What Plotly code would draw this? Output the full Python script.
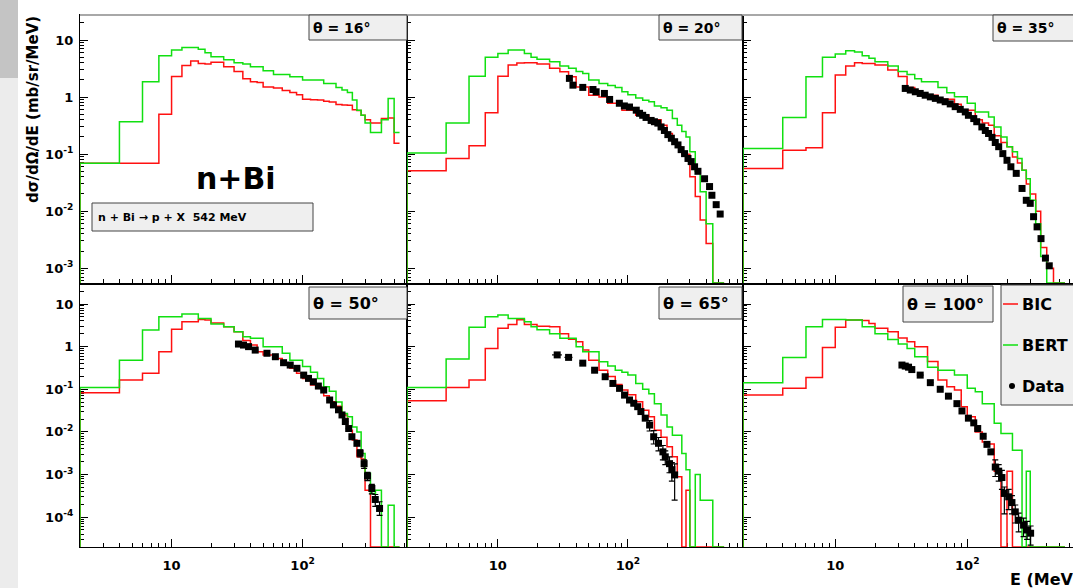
import math
import plotly.graph_objects as go

W, H = 1073, 588

# ---------------------------------------------------------------- data
# common energy binning of the model histograms (MeV)
E_EDGES = [2, 4, 6, 8, 10, 12, 14, 16, 18, 20, 25, 30, 35, 40, 45, 50, 60, 70, 80, 90,
           100, 115, 130, 145, 160, 180, 200, 220, 240, 260, 280, 300, 330, 360, 400,
           450, 500, 550]

ANGLES = [16, 20, 35, 50, 65, 100]

# model predictions, d2sigma/dOmega/dE in mb/sr/MeV per bin (0 = empty bin)
BIC_16 = [0.069, 0.069, 0.069, 0.50, 2.3, 3.6, 4.3, 3.9, 3.8, 4.1,
          3.4, 2.8, 2.1, 1.86, 1.8, 1.5, 1.45, 1.3, 1.2, 1.1,
          0.92, 0.9, 0.89, 0.85, 0.82, 0.74, 0.73, 0.72, 0.6, 0.58,
          0.48, 0.40, 0.35, 0.35, 0.42, 0.43, 0.155]
BERT_16 = [0.069, 0.37, 1.86, 5.3, 6.7, 7.45, 7.45, 6.9, 6.0, 5.1,
           4.5, 4.0, 3.8, 3.4, 3.4, 2.9, 2.5, 2.5, 2.27, 2.27,
           2.0, 2.0, 2.0, 1.74, 1.74, 1.48, 1.33, 1.2, 0.89, 0.59,
           0.48, 0.35, 0.24, 0.24, 0.40, 0.95, 0.24]

BIC_20 = [0.051, 0.084, 0.14, 0.53, 2.33, 3.64, 3.98, 4.0, 4.0, 3.8,
          3.2, 2.78, 2.27, 1.51, 1.51, 1.08, 1.0, 0.78, 0.78, 0.59,
          0.59, 0.48, 0.48, 0.40, 0.40, 0.32, 0.23, 0.176, 0.135, 0.10,
          0.10, 0.04, 0.018, 0.007, 0.0027, 0, 0]
BERT_20 = [0.105, 0.35, 2.33, 5.0, 5.8, 6.7, 6.7, 5.8, 5.0, 4.6,
           4.17, 3.5, 3.2, 2.8, 2.6, 2.0, 1.74, 1.6, 1.48, 1.24,
           1.1, 0.96, 0.88, 0.83, 0.70, 0.65, 0.59, 0.42, 0.32, 0.25,
           0.2, 0.11, 0.05, 0.022, 0.006, 0, 0]

BIC_35 = [0.056, 0.117, 0.13, 0.53, 2.43, 3.5, 4.0, 3.9, 3.9, 3.64,
          3.0, 2.3, 1.48, 1.29, 1.08, 1.08, 0.92, 0.92, 0.75, 0.59,
          0.59, 0.40, 0.35, 0.32, 0.21, 0.16, 0.135, 0.089, 0.07, 0.052,
          0.03, 0.02, 0.01, 0.0023, 0.001, 0, 0]
BERT_35 = [0.126, 0.44, 2.27, 5.0, 5.7, 6.5, 6.2, 5.3, 4.8, 4.17,
           3.5, 2.8, 2.5, 2.1, 1.86, 1.86, 1.48, 1.19, 1.01, 1.01,
           0.78, 0.55, 0.55, 0.45, 0.30, 0.20, 0.135, 0.11, 0.084, 0.052,
           0.037, 0.0155, 0.006, 0.0016, 0, 0, 0]

BIC_50 = [0.083, 0.164, 0.236, 0.76, 2.55, 3.85, 3.85, 4.36, 4.2, 3.6,
          2.93, 2.24, 1.4, 1.09, 0.76, 0.64, 0.53, 0.41, 0.31, 0.236,
          0.18, 0.126, 0.11, 0.07, 0.051, 0.04, 0.025, 0.011, 0.0065, 0.0026,
          0.0023, 0.00043, 0, 0, 0, 0, 0]
BERT_50 = [0.11, 0.48, 2.45, 5.0, 5.0, 5.8, 5.8, 4.6, 4.6, 3.4,
           2.93, 2.24, 1.71, 1.57, 1.57, 1.0, 1.0, 0.7, 0.48, 0.48,
           0.34, 0.25, 0.18, 0.115, 0.09, 0.05, 0.027, 0.0226, 0.013, 0.01,
           0.0031, 0.00107, 0.00036, 0.00043, 0, 0.00019, 0]

BIC_65 = [0.054, 0.11, 0.164, 0.91, 2.7, 3.3, 4.3, 3.3, 3.3, 3.0,
          2.93, 2.0, 1.5, 1.3, 0.83, 0.48, 0.28, 0.2, 0.13, 0.096,
          0.074, 0.051, 0.032, 0.0226, 0.011, 0.0075, 0.0045, 0.0026, 0.00089, 0,
          0.00043, 0, 0, 0, 0, 0, 0]
BERT_65 = [0.11, 0.51, 2.84, 5.0, 5.5, 4.6, 4.6, 3.85, 2.93, 2.5,
           2.0, 1.57, 1.57, 1.0, 0.76, 0.76, 0.44, 0.35, 0.28, 0.25,
           0.215, 0.137, 0.1, 0.079, 0.046, 0.025, 0.013, 0.0083, 0.0083, 0.0031,
           0.0013, 0, 0.001, 0.00025, 0.00025, 0, 0]

BIC_100 = [0.073, 0.105, 0.19, 0.96, 2.84, 4.2, 4.2, 4.1, 3.5, 2.7,
           2.24, 1.6, 1.3, 1.0, 1.0, 0.45, 0.164, 0.115, 0.096, 0.039,
           0.0226, 0.01, 0.0058, 0.0052, 0.0012, 0, 0.0012, 0, 0, 0,
           0, 0, 0, 0, 0, 0, 0]
BERT_100 = [0.143, 0.56, 2.93, 4.36, 4.36, 4.2, 4.2, 2.93, 2.93, 2.0,
            1.48, 1.15, 0.91, 0.58, 0.58, 0.33, 0.28, 0.28, 0.215, 0.215,
            0.105, 0.087, 0.046, 0.046, 0.016, 0.0092, 0.0092, 0.0037, 0.0037, 0,
            0.0012, 0, 0, 0, 0, 0, 0]

# measured spectra
DATA_E_20 = [35.5, 37.8, 45, 53.9, 57, 66, 72.4, 86, 94, 103, 116, 123, 130, 138, 151,
             160, 170, 180, 191, 203, 216, 229, 243, 257, 273, 290, 307, 326, 346, 389,
             425, 443, 478, 513]
DATA_XS_20 = [2.13, 1.62, 1.48, 1.36, 1.24, 1.16, 0.91, 0.78, 0.70, 0.67, 0.59, 0.52,
              0.48, 0.44, 0.39, 0.37, 0.35, 0.30, 0.26, 0.22, 0.19, 0.165, 0.145, 0.12,
              0.102, 0.084, 0.074, 0.060, 0.050, 0.037, 0.027, 0.019, 0.013, 0.0089]

DATA_E_35 = [33.9, 37, 40.4, 44, 48, 52.5, 57.3, 62.4, 68, 74.3, 81, 88.5, 96.6, 102,
             112, 118, 129, 137, 145, 154, 163, 173, 186, 200, 214, 235, 260, 280, 300,
             318, 338, 362, 391, 418]
DATA_XS_35 = [1.42, 1.33, 1.24, 1.16, 1.08, 1.01, 0.95, 0.89, 0.83, 0.76, 0.68, 0.61,
              0.55, 0.48, 0.42, 0.37, 0.30, 0.26, 0.23, 0.197, 0.16, 0.135, 0.102, 0.078,
              0.060, 0.046, 0.025, 0.0155, 0.0137, 0.0080, 0.0053, 0.0033, 0.0015, 0.0011]

DATA_E_50 = [32.4, 35.4, 38.7, 43.5, 53.5, 62, 71.6, 80.5, 90.6, 102, 111, 121, 132, 145,
             161, 172, 188, 200, 212, 225, 238, 260, 275, 295, 313, 338, 359, 387]
DATA_XS_50 = [1.15, 1.09, 1.0, 0.83, 0.70, 0.58, 0.42, 0.37, 0.31, 0.215, 0.18, 0.15,
              0.119, 0.096, 0.056, 0.043, 0.033, 0.025, 0.0175, 0.012, 0.0077, 0.0054,
              0.0032, 0.0018, 0.00092, 0.00047, 0.00026, 0.00016]
DATA_DYUP_50 = [0, 0, 0, 0, 0, 0, 0, 0, 0, 0, 0, 0, 0, 0, 0, 0, 0, 0, 0, 0, 0, 0,
                0.0006, 0.0004, 0.0002, 0.00012, 0.00008, 0.00007]
DATA_DYDN_50 = [0, 0, 0, 0, 0, 0, 0, 0, 0, 0, 0, 0, 0, 0, 0, 0, 0, 0, 0, 0, 0, 0,
                0.0006, 0.0004, 0.0002, 0.00012, 0.00008, 0.00005]

DATA_E_65 = [28.6, 35, 45, 55.5, 66.9, 76.7, 86.3, 94.3, 103, 111, 119, 126, 136, 147,
             158, 172, 186, 194, 209, 218, 229]
DATA_XS_65 = [0.64, 0.56, 0.41, 0.28, 0.197, 0.137, 0.105, 0.073, 0.056, 0.047, 0.039,
              0.030, 0.021, 0.0145, 0.0077, 0.0054, 0.0034, 0.0026, 0.0018, 0.0013,
              0.00098]
DATA_DX_65 = [2.5, 2.5, 2.5, 2.5, 2.5, 2.5, 2.5, 2.5, 2.5, 2.5, 2.5, 2.5, 2.5, 2.5,
              5, 5, 5, 5, 5, 5, 5]
DATA_DYUP_65 = [0, 0, 0, 0, 0, 0, 0, 0, 0, 0, 0, 0, 0, 0.004,
                0.003, 0.002, 0.0014, 0.001, 0.0008, 0.0006, 0.0008]
DATA_DYDN_65 = [0, 0, 0, 0, 0, 0, 0, 0, 0, 0, 0, 0, 0, 0.004,
                0.0025, 0.0018, 0.0012, 0.0009, 0.0007, 0.0006, 0.00073]

DATA_E_100 = [32, 33.9, 35.9, 38, 44, 52.5, 62.4, 72, 83.5, 91.2, 102, 112, 120, 132,
              141, 151, 163, 173, 183, 191, 206, 218, 231, 245, 267, 284, 302]
DATA_XS_100 = [0.37, 0.35, 0.33, 0.29, 0.215, 0.143, 0.10, 0.069, 0.046, 0.031, 0.021,
               0.0163, 0.012, 0.0079, 0.0051, 0.0034, 0.0015, 0.0012, 0.00085, 0.00036,
               0.0003, 0.00022, 0.000133, 0.000085, 0.000065, 0.00005, 0.000042]
DATA_DX_100 = [1, 1, 1, 1, 2.5, 2.5, 2.5, 2.5, 2.5, 2.5, 2.5, 2.5, 2.5, 5, 5, 5, 5, 5,
               5, 5, 5, 5, 5, 5, 5, 5, 5]
DATA_DYUP_100 = [0, 0, 0, 0, 0, 0, 0, 0, 0, 0, 0, 0, 0, 0, 0, 0, 0.0007, 0.0005,
                 0.0004, 0.00015, 0.00015, 0.0001, 0.00006, 0.00004, 0.00003, 0.00003,
                 0.00002]
DATA_DYDN_100 = [0, 0, 0, 0, 0, 0, 0, 0, 0, 0, 0, 0, 0, 0, 0, 0, 0.0006, 0.0005,
                 0.0004, 0.00024, 0.00015, 0.0001, 0.00006, 0.00004, 0.00003, 0.00002,
                 0.00002]

Y_TICK_TOP = [0.001, 0.01, 0.1, 1, 10]
Y_TICK_BOT = [0.0001, 0.001, 0.01, 0.1, 1, 10]
X_TICKS = [10, 100]
X_TICK_TEXT = ["10", "10<sup>2</sup>"]

# ---------------------------------------------------------------- styles
RED = "#ff1010"
GREEN = "#10e010"
FONT = "DejaVu Sans"

PANELS = [
    dict(bic=BIC_16, bert=BERT_16, e=None),
    dict(bic=BIC_20, bert=BERT_20, e=DATA_E_20, xs=DATA_XS_20),
    dict(bic=BIC_35, bert=BERT_35, e=DATA_E_35, xs=DATA_XS_35),
    dict(bic=BIC_50, bert=BERT_50, e=DATA_E_50, xs=DATA_XS_50,
         dyup=DATA_DYUP_50, dydn=DATA_DYDN_50),
    dict(bic=BIC_65, bert=BERT_65, e=DATA_E_65, xs=DATA_XS_65, dx=DATA_DX_65,
         dyup=DATA_DYUP_65, dydn=DATA_DYDN_65),
    dict(bic=BIC_100, bert=BERT_100, e=DATA_E_100, xs=DATA_XS_100, dx=DATA_DX_100,
         dyup=DATA_DYUP_100, dydn=DATA_DYDN_100),
]

# pad frames in pixels
COLS = [(80, 407), (407, 743), (743, 1073)]
ROWS = [(15, 283), (285, 547)]
DECADE_PX = [131, 130, 132]
Y_RANGES = [(-3.26, 1.44), (-4.70, 1.446)]


def fx(px):
    return px / W


def fy(py):
    return 1 - py / H


def step_xy(edges, vals, floor):
    v = [y if y > 0 else floor for y in vals]
    xs = [edges[0]] + list(edges)
    ys = [floor] + v + [v[-1]]
    return xs, ys


def minor_vals(lo_exp, hi_exp):
    out = []
    for k in range(lo_exp, hi_exp + 1):
        for m in range(2, 10):
            out.append(m * 10 ** k)
    return out


def sup_label(v):
    if v == 1:
        return "1"
    if v == 10:
        return "10"
    return "10<sup>%d</sup>" % round(math.log10(v))


fig = go.Figure()
layout = dict(
    width=W, height=H, margin=dict(l=0, r=0, t=0, b=0),
    paper_bgcolor="white", plot_bgcolor="white", showlegend=False,
)

x_lo = math.log10(E_EDGES[0])

for k, p in enumerate(PANELS):
    r, c = divmod(k, 3)
    sfx = "" if k == 0 else str(k + 1)
    xid, yid = "x" + sfx, "y" + sfx
    ylo, yhi = Y_RANGES[r]
    floor = 10 ** ylo
    width_px = COLS[c][1] - COLS[c][0]
    x_hi = x_lo + width_px / DECADE_PX[c]

    yt = Y_TICK_TOP if r == 0 else Y_TICK_BOT
    layout["xaxis" + sfx] = dict(
        domain=[fx(COLS[c][0]), fx(COLS[c][1])], anchor=yid, type="log",
        range=[x_lo, x_hi], showgrid=False, zeroline=False,
        showline=True, linecolor="black", linewidth=1.2, mirror=True,
        ticks="inside", ticklen=8, tickcolor="black", tickwidth=1,
        tickmode="array", tickvals=X_TICKS, ticktext=X_TICK_TEXT,
        showticklabels=(r == 1), ticklabelstandoff=6,
        tickfont=dict(family=FONT, size=13, color="black", weight="bold"),
        minor=dict(tickvals=minor_vals(0, 2), ticks="inside", ticklen=4,
                   tickcolor="black", tickwidth=1, showgrid=False),
        layer="below traces",
    )
    layout["yaxis" + sfx] = dict(
        domain=[fy(ROWS[r][1]), fy(ROWS[r][0])], anchor=xid, type="log",
        range=[ylo, yhi], showgrid=False, zeroline=False,
        showline=True, linecolor="black", linewidth=1.2, mirror=True,
        ticks="inside", ticklen=8, tickcolor="black", tickwidth=1,
        tickmode="array", tickvals=yt, ticktext=[sup_label(v) for v in yt],
        showticklabels=(c == 0), ticklabelstandoff=3,
        tickfont=dict(family=FONT, size=13, color="black", weight="bold"),
        minor=dict(tickvals=minor_vals(-5, 1), ticks="inside", ticklen=4,
                   tickcolor="black", tickwidth=1, showgrid=False),
        layer="below traces",
    )

    xs, ys = step_xy(E_EDGES, p["bic"], floor)
    fig.add_trace(go.Scatter(x=xs, y=ys, mode="lines", line_shape="hv",
                             line=dict(color=RED, width=1.5), xaxis=xid, yaxis=yid,
                             name="BIC", hoverinfo="skip"))
    xs, ys = step_xy(E_EDGES, p["bert"], floor)
    fig.add_trace(go.Scatter(x=xs, y=ys, mode="lines", line_shape="hv",
                             line=dict(color=GREEN, width=1.5), xaxis=xid, yaxis=yid,
                             name="BERT", hoverinfo="skip"))
    if p["e"] is not None:
        kw = {}
        if "dx" in p:
            kw["error_x"] = dict(type="data", array=p["dx"], color="black",
                                 thickness=1.2, width=0)
        if "dyup" in p:
            kw["error_y"] = dict(type="data", symmetric=False, array=p["dyup"],
                                 arrayminus=p["dydn"], color="black",
                                 thickness=1.2, width=3)
        fig.add_trace(go.Scatter(x=p["e"], y=p["xs"], mode="markers",
                                 marker=dict(symbol="square", size=7, color="black"),
                                 xaxis=xid, yaxis=yid, name="Data", **kw))

shapes = []
ann = []

# page background strip on the left
shapes.append(dict(type="rect", xref="paper", yref="paper", x0=0, x1=fx(18),
                   y0=0, y1=1, fillcolor="#ececec", line=dict(width=0), layer="below"))
shapes.append(dict(type="rect", xref="paper", yref="paper", x0=0, x1=fx(18),
                   y0=fy(78), y1=1, fillcolor="#c4c4c4", line=dict(width=0),
                   layer="below"))
# light border along the top of the canvas
shapes.append(dict(type="line", xref="paper", yref="paper", x0=fx(80), x1=1,
                   y0=fy(15), y1=fy(15), line=dict(color="#a8a8a8", width=2)))


def box(x0, y0, x1, y1):
    shapes.append(dict(type="rect", xref="paper", yref="paper",
                       x0=fx(x0), x1=fx(x1), y0=fy(y1), y1=fy(y0),
                       fillcolor="#efefef", line=dict(color="#444444", width=1)))


def text(px, py, s, size, anchor="left"):
    ann.append(dict(xref="paper", yref="paper", x=fx(px), y=fy(py), text=s,
                    showarrow=False, xanchor=anchor, yanchor="middle",
                    font=dict(family=FONT, size=size, color="black", weight="bold")))


# angle labels
ANGLE_BOXES = [(309, 15, 407, 40), (659, 15, 742, 40), (993, 15, 1080, 41),
               (309, 287, 407, 319), (659, 287, 742, 319), (903, 286, 993, 322)]
for ang, (x0, y0, x1, y1) in zip(ANGLES, ANGLE_BOXES):
    box(x0, y0, x1, y1)
    size = 14 if y0 < 100 else 16
    text(x0 + 2, (y0 + y1) / 2, "θ = %d°" % ang, size)

# reaction label
text(236, 178, "n+Bi", 30, anchor="center")
box(92, 203, 313, 231)
text(96, 217, "n + Bi → p + X  542 MeV", 11)

# legend
box(1001, 285, 1085, 405)
shapes.append(dict(type="line", xref="paper", yref="paper", x0=fx(1003), x1=fx(1018),
                   y0=fy(304), y1=fy(304), line=dict(color=RED, width=1.5)))
shapes.append(dict(type="line", xref="paper", yref="paper", x0=fx(1003), x1=fx(1018),
                   y0=fy(345), y1=fy(345), line=dict(color=GREEN, width=1.5)))
shapes.append(dict(type="circle", xref="paper", yref="paper", x0=fx(1009), x1=fx(1015),
                   y0=fy(389), y1=fy(383), fillcolor="black", line=dict(width=0)))
text(1020, 304, "BIC", 16)
text(1020, 345, "BERT", 16)
text(1020, 386, "Data", 16)

# axis titles
ann.append(dict(xref="paper", yref="paper", x=fx(33), y=fy(110),
                text="dσ/dΩ/dE (mb/sr/MeV)", showarrow=False, textangle=-90,
                xanchor="center", yanchor="middle",
                font=dict(family=FONT, size=15, color="black", weight="bold")))
text(1008, 579, "E (MeV)", 16)

layout["shapes"] = shapes
layout["annotations"] = ann
fig.update_layout(**layout)
fig.write_html("out.html")
